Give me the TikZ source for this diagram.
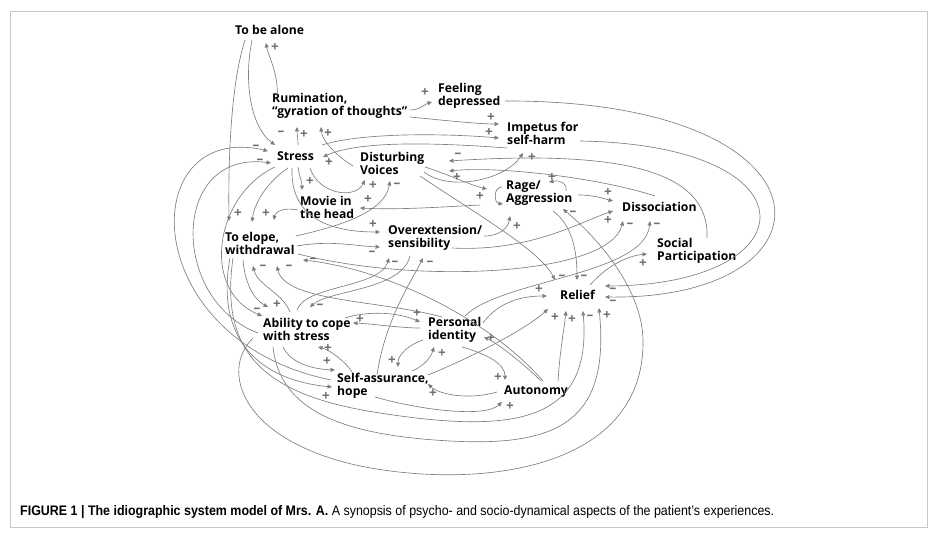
\documentclass[tikz,border=0pt]{standalone}
\usepackage{fontspec}
\setmainfont{Open Sans}
\newfontfamily\capfont[FakeStretch=0.9]{Liberation Sans}
\usetikzlibrary{arrows.meta,calc}
\definecolor{linkgray}{RGB}{125,125,125}
\definecolor{signgray}{RGB}{110,110,110}
\definecolor{framegray}{RGB}{200,200,200}
\newcommand\conceptfont{\fontsize{10.4}{11.2}\selectfont\bfseries}
\tikzset{
  concept/.style={font=\conceptfont, align=left, inner sep=0pt, anchor=west},
  link/.style={draw=linkgray, line width=0.55pt, -{Triangle[length=3.8pt,width=3.4pt]}},
  sgn/.style={text=signgray, font=\fontsize{11.5}{11.5}\selectfont\bfseries, inner sep=0pt},
}
\begin{document}
\begin{tikzpicture}[x=0.03cm, y=-0.03cm]
   \useasboundingbox (0,0) rectangle (940,539);
   \draw[framegray, line width=0.8pt] (10,11) rectangle (927,527);
   % concepts
   \foreach \n/\x/\y/\t in {
      alone/235/30/{To be alone},
      rum/272/106/{Rumination,\\“gyration of thoughts”},
      feel/438/96/{Feeling\\depressed},
      imp/507/133/{Impetus for\\self-harm},
      stress/277/156/{Stress},
      voices/360/163/{Disturbing\\Voices},
      rage/506/193/{Rage/\\Aggression},
      diss/622/207/{Dissociation},
      movie/300/207/{Movie in\\the head},
      elope/225/243/{To elope,\\withdrawal},
      over/388/238/{Overextension/\\sensibility},
      social/657/251/{Social\\Participation},
      relief/560/295/{Relief},
      ability/263/329/{Ability to cope\\with stress},
      ident/428/330/{Personal\\identity},
      selfa/337/386/{Self-assurance,\\hope},
      auto/504/392/{Autonomy}} {
      \node[concept] (\n) at (\x,\y) {\t};
   }
   % links: from / offset / two controls / to / offset
   \foreach \a/\ax/\ay/\px/\py/\qx/\qy/\b/\bx/\by in {
      rum/5/-10/279/75/268/55/alone/31/13,
      alone/10/10/232/80/228/150/elope/4/-22,
      alone/17/10/243/85/252/128/stress/-2/-11,
      stress/21/-11/298/138/297/133/rum/25/21,
      voices/-7/3/335/155/322/140/rum/49/21,
      rum/138/4/420/110/425/104/feel/-6/6,
      rum/138/11/450/121/480/124/imp/-8/-9,
      stress/45/-11/360/133/440/133/imp/-8/5,
      imp/0/15/440/143/360/140/stress/46/1,
      feel/67/5/845/100/845/300/relief/45/2,
      imp/73/8/820/145/810/285/relief/45/-9,
      social/50/-13/710/170/620/150/voices/89/-2,
      diss/33/-11/600/178/500/166/voices/89/8,
      voices/64/9/450/192/505/180/imp/16/20,
      voices/65/4/450/175/470/185/rage/-19/-4,
      rage/-4/-6/493/187/494/203/rage/-3/11,
      rage/60/-2/567/183/561/180/rage/43/-11,
      rage/-26/12/440/207/400/210/movie/60/1,
      rage/72/2/595/195/605/199/diss/-9/-6,
      over/64/10/530/252/580/222/diss/-9/4,
      over/96/-2/500/236/508/228/rage/4/23,
      stress/21/11/299/175/302/182/movie/2/-17,
      stress/33/12/318/194/355/200/voices/5/17,
      elope/71/-7/340/226/385/212/voices/30/18,
      movie/-2/3/284/207/275/212/elope/49/-23,
      stress/11/12/270/180/255/200/elope/27/-21,
      stress/15/12/290/218/330/232/over/-8/-6,
      elope/72/3/330/240/355/246/over/-8/9,
      ability/27/-17/282/292/258/286/elope/28/23,
      ident/14/-13/380/300/285/302/elope/52/23,
      auto/39/-11/490/320/390/270/elope/78/17,
      ability/34/-19/305/285/380/288/over/1/20,
      over/22/18/402/290/330/290/ability/47/-22,
      selfa/40/-11/385/320/412/280/over/35/20,
      elope/73/11/420/285/610/275/diss/1/14,
      ident/37/-14/500/280/645/275/diss/28/14,
      voices/60/13/470/210/540/250/relief/-5/-15,
      rage/47/18/572/225/577/250/relief/17/-15,
      ident/55/-7/500/300/525/296/relief/-13/1,
      selfa/91/-11/470/358/525/330/relief/-12/14,
      auto/54/-11/560/350/564/330/relief/6/16,
      relief/30/-10/605/268/625/256/social/-10/3,
      selfa/15/-14/346/362/330/350/ability/55/18,
      ability/20/18/290/362/310/369/selfa/-2/-16,
      ability/82/-11/370/310/400/313/ident/-8/-8,
      ident/-8/-2/400/328/375/324/ability/90/-6,
      auto/37/-11/525/365/500/345/ident/56/7,
      ident/-5/10/408/345/398/355/selfa/61/-19,
      selfa/75/-15/420/368/430/360/ident/6/17,
      auto/-7/0/470/400/440/395/selfa/91/-2,
      ident/34/17/490/355/505/365/auto/1/-12,
      selfa/38/11/420/410/485/418/auto/-2/10,
      elope/18/17/245/285/255/300/ability/5/-22,
      stress/-2/11/215/195/200/290/ability/-1/-13,
      ability/-5/4/170/300/170/150/stress/-6/7,
      selfa/-6/-6/135/340/135/120/stress/-9/-5,
      elope/5/15/215/340/260/380/selfa/-5/1} {
      \draw[link] ($(\a.west)+(\ax,\ay)$) .. controls (\px,\py) and (\qx,\qy) .. ($(\b.west)+(\bx,\by)$);
   }
   % long loops round the bottom
   \draw[link] ($(elope.west)+(8,15)$) .. controls (220,350) and (260,395) .. (380,413)
      .. controls (520,435) and (592,420) .. ($(relief.west)+(23,16)$);
   \draw[link] ($(ability.west)+(10,18)$) .. controls (280,410) and (340,435) .. (450,441)
      .. controls (560,447) and (610,420) .. ($(relief.west)+(39,13)$);
   \draw[link] ($(ability.west)+(-10,9)$) .. controls (220,370) and (240,440) .. (360,466)
      .. controls (480,490) and (645,470) .. (643,340)
      .. controls (642,290) and (600,240) .. ($(rage.west)+(57,16)$);
   % signs
   \foreach \x/\y/\s [count=\i] in {
      275/47/+, 238/213/+, 281/133/–, 304/134/+, 328/133/+, 425/92/+, 491/117/+,
      489/132/+, 329/162/+, 613/302/–, 613/290/–, 458/155/–, 457/177/+, 532/157/+,
      480/196/+, 552/177/+, 368/199/+, 608/192/+, 608/220/+, 517/226/+, 310/181/+,
      373/185/+, 397/185/–, 266/213/+, 373/224/+, 372/253/–, 263/267/–, 289/267/–,
      313/260/–, 395/263/–, 320/306/–, 430/263/–, 630/225/–, 657/225/–, 562/277/–,
      584/277/–, 539/289/+, 555/317/+, 572/319/+, 590/317/–, 607/315/+, 573/213/–,
      643/263/+, 328/348/+, 327/361/+, 417/313/+, 360/319/+, 491/338/+, 392/360/+,
      442/353/+, 433/393/+, 498/377/+, 510/406/+, 277/304/+, 257/310/–, 256/147/–,
      260/161/–, 326/396/+} {
      \node[sgn] (sg\i) at (\x,\y) {\s};
   }
   \node[anchor=base west, inner sep=0pt, font=\capfont\fontsize{11.8}{13}\selectfont] (caption) at (20,515)
      {\textbf{FIGURE 1 | The idiographic system model of Mrs. A.} A synopsis of psycho- and socio-dynamical aspects of the patient’s experiences.};
\end{tikzpicture}
\end{document}
